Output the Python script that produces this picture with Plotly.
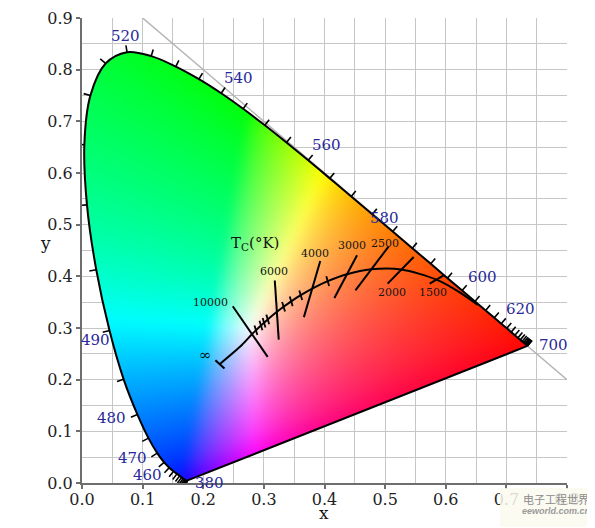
import numpy as np, zlib, struct, base64
import plotly.graph_objects as go

# ---------------- data ----------------
wavelengths = list(range(380, 705, 5))
locus_x = [0.1741, 0.1740, 0.1738, 0.1736, 0.1733, 0.1730, 0.1726, 0.1721, 0.1714, 0.1703,
           0.1689, 0.1669, 0.1644, 0.1611, 0.1566, 0.1510, 0.1440, 0.1355, 0.1241, 0.1096,
           0.0913, 0.0687, 0.0454, 0.0235, 0.0082, 0.0039, 0.0139, 0.0389, 0.0743, 0.1142,
           0.1547, 0.1929, 0.2296, 0.2658, 0.3016, 0.3373, 0.3731, 0.4087, 0.4441, 0.4788,
           0.5125, 0.5448, 0.5752, 0.6029, 0.6270, 0.6482, 0.6658, 0.6801, 0.6915, 0.7006,
           0.7079, 0.7140, 0.7190, 0.7230, 0.7260, 0.7283, 0.7300, 0.7311, 0.7320, 0.7327,
           0.7334, 0.7340, 0.7344, 0.7346, 0.7347]
locus_y = [0.0050, 0.0050, 0.0049, 0.0049, 0.0048, 0.0048, 0.0048, 0.0048, 0.0051, 0.0058,
           0.0069, 0.0086, 0.0109, 0.0138, 0.0177, 0.0227, 0.0297, 0.0399, 0.0578, 0.0868,
           0.1327, 0.2007, 0.2950, 0.4127, 0.5384, 0.6548, 0.7502, 0.8120, 0.8338, 0.8262,
           0.8059, 0.7816, 0.7543, 0.7243, 0.6923, 0.6589, 0.6245, 0.5896, 0.5547, 0.5202,
           0.4866, 0.4544, 0.4242, 0.3965, 0.3725, 0.3514, 0.3340, 0.3197, 0.3083, 0.2993,
           0.2920, 0.2859, 0.2809, 0.2770, 0.2740, 0.2717, 0.2700, 0.2689, 0.2680, 0.2673,
           0.2666, 0.2660, 0.2656, 0.2654, 0.2653]

wl_labels = ["520", "540", "560", "580", "600", "620", "700", "500", "490", "480", "470", "460", "380"]
wl_label_x = [0.0717, 0.258, 0.403, 0.499, 0.660, 0.723, 0.777, -0.037, 0.022, 0.0486, 0.0828, 0.1075, 0.210]
wl_label_y = [0.866, 0.783, 0.654, 0.512, 0.399, 0.336, 0.2665, 0.537, 0.276, 0.1266, 0.049, 0.015, 0.0]

planck_T = ["inf", "15000", "10000", "9000", "8000", "7500", "7000", "6500", "6000", "5500",
            "5000", "4500", "4000", "3500", "3000", "2500", "2000", "1500", "1200", "1000"]
planck_x = [0.2280, 0.2637, 0.2807, 0.2869, 0.2952, 0.3003, 0.3064, 0.3135, 0.3221, 0.3325,
            0.3451, 0.3608, 0.3805, 0.4053, 0.4369, 0.4770, 0.5267, 0.5857, 0.6250, 0.6528]
planck_y = [0.2310, 0.2671, 0.2884, 0.2956, 0.3048, 0.3103, 0.3166, 0.3237, 0.3318, 0.3411,
            0.3516, 0.3635, 0.3768, 0.3907, 0.4041, 0.4137, 0.4133, 0.3931, 0.3675, 0.3444]

small_tick_T = ["9000", "8000", "7500", "7000", "5500", "5000", "4500", "3500"]

iso_T = ["10000", "6000", "4000", "3000", "2500", "2000", "1500"]
iso_x0 = [0.2487, 0.3180, 0.3930, 0.4537, 0.5059, 0.5471, 0.5966]
iso_y0 = [0.3420, 0.3920, 0.4297, 0.4407, 0.4580, 0.4374, 0.4020]
iso_x1 = [0.3063, 0.3245, 0.3660, 0.4163, 0.4510, 0.5042, 0.5735]
iso_y1 = [0.2440, 0.2775, 0.3210, 0.3580, 0.3729, 0.3859, 0.3859]
iso_label_x = [0.212, 0.316, 0.385, 0.4455, 0.5004, 0.5115, 0.579]
iso_label_y = [0.350, 0.410, 0.445, 0.460, 0.4645, 0.3685, 0.3685]

inf_bar_x = [0.2200, 0.2350]
inf_bar_y = [0.2375, 0.2214]
inf_label = "∞"
inf_label_x, inf_label_y = 0.2036, 0.247
tc_label = "T<sub>C</sub>(°K)"
tc_label_x, tc_label_y = 0.286, 0.4645

diag_x = [0.1, 0.8]
diag_y = [0.9, 0.2]

X_RANGE = [0.0, 0.8]
Y_RANGE = [0.0, 0.9]

# ---------------- geometry ----------------
OFF = 8                     # page body margin of the html page
W, H = 595 - OFF, 528 - OFF
L, T = 82 - OFF, 18 - OFF
PW, PH = 485, 465
R, B = W - L - PW, H - T - PH
SX = PW / (X_RANGE[1] - X_RANGE[0])
SY = PH / (Y_RANGE[1] - Y_RANGE[0])

def px_paper(px, py):
    """page pixel -> paper coords"""
    return (px - OFF - L) / PW, (T + PH - (py - OFF)) / PH

# ---------- replicate plotly's spline to get a smooth mask outline ----------
SMOOTH = 1.0
def plotly_spline(xd, yd, smooth=SMOOTH, nseg=12):
    P = np.column_stack([np.array(xd) * SX, -np.array(yd) * SY])
    n = len(P)
    tans = []
    for i in range(1, n - 1):
        p0, p1, p2 = P[i - 1], P[i], P[i + 1]
        d1 = p0 - p1; d2 = p2 - p1
        d1a = np.hypot(*d1) ** 0.5; d2a = np.hypot(*d2) ** 0.5
        num = (d2a * d2a * d1 - d1a * d1a * d2) * smooth
        den1 = 3 * d2a * (d1a + d2a); den2 = 3 * d1a * (d1a + d2a)
        a = p1 + (num / den1 if den1 else 0)
        b = p1 - (num / den2 if den2 else 0)
        tans.append((a, b))
    t = np.linspace(0, 1, nseg + 1)[1:, None]
    out = [P[0]]
    c = tans[0][0]
    out += list((1 - t) ** 2 * P[0] + 2 * (1 - t) * t * c + t ** 2 * P[1])
    for i in range(2, n - 1):
        c1 = tans[i - 2][1]; c2 = tans[i - 1][0]
        p0, p3 = P[i - 1], P[i]
        out += list((1 - t) ** 3 * p0 + 3 * (1 - t) ** 2 * t * c1 + 3 * (1 - t) * t ** 2 * c2 + t ** 3 * p3)
    c = tans[n - 3][1]
    out += list((1 - t) ** 2 * P[n - 2] + 2 * (1 - t) * t * c + t ** 2 * P[n - 1])
    out = np.array(out)
    return out[:, 0] / SX, -out[:, 1] / SY

mask_x, mask_y = plotly_spline(locus_x, locus_y)

# ---------------- colour field image (wide-gamut CIE RGB rendering) ----------------
IW, IH = PW, PH
dx = (X_RANGE[1] - X_RANGE[0]) / IW
dy = (Y_RANGE[1] - Y_RANGE[0]) / IH
xs = X_RANGE[0] + (np.arange(IW) + 0.5) * dx
ys = Y_RANGE[0] + (np.arange(IH) + 0.5) * dy
gx, gy = np.meshgrid(xs, ys)
poly = np.column_stack([mask_x, mask_y])
inside = np.zeros(gx.shape, bool)
n = len(poly)
M = np.array([[2.3646, -0.8965, -0.4681],
              [-0.5152, 1.4264, 0.0888],
              [0.0052, -0.0144, 1.0092]])
WHITE = (0.28, 0.30)      # chromaticity rendered as neutral white
wX, wZ = WHITE[0] / WHITE[1], (1 - WHITE[0] - WHITE[1]) / WHITE[1]
gains = 1.0 / (M @ np.array([wX, 1.0, wZ]))
with np.errstate(divide='ignore', invalid='ignore'):
    for i in range(n):
        x1, y1 = poly[i]
        x2, y2 = poly[(i + 1) % n]
        if y1 == y2:
            continue
        cond = (y1 > gy) != (y2 > gy)
        xint = (x2 - x1) * (gy - y1) / (y2 - y1) + x1
        inside ^= cond & (gx < xint)
    XYZ = np.stack([gx / gy, np.ones_like(gx), (1 - gx - gy) / gy], -1)
    rgb = (XYZ @ M.T) * gains
    rgb = np.clip(rgb, 0, None)
    mx = rgb.max(-1, keepdims=True)
    mx[mx <= 0] = 1
    rgb = rgb / mx
    srgb = np.power(np.clip(rgb, 0, 1), 1 / 1.55)
srgb = np.nan_to_num(srgb)

# soften the gamut-clipping seams with a masked box blur (rendering only)
def box_blur(a, r, axis):
    pad = [(0, 0)] * a.ndim
    pad[axis] = (r + 1, r)
    c = np.cumsum(np.pad(a, pad, mode='edge'), axis=axis)
    sl_hi = [slice(None)] * a.ndim; sl_lo = [slice(None)] * a.ndim
    sl_hi[axis] = slice(2 * r + 1, None); sl_lo[axis] = slice(None, -(2 * r + 1))
    return (c[tuple(sl_hi)] - c[tuple(sl_lo)]) / (2 * r + 1)

mk = inside.astype(float)[..., None]
num = srgb * mk
den = mk.copy()
for _ in range(2):
    for ax in (0, 1):
        num = box_blur(num, 6, ax)
        den = box_blur(den, 6, ax)
with np.errstate(divide='ignore', invalid='ignore'):
    blurred = np.where(den > 1e-6, num / den, srgb)
rgba = np.zeros((IH, IW, 4), np.uint8)
rgba[..., :3] = np.clip(blurred * 255, 0, 255).astype(np.uint8)
rgba[..., 3] = np.where(inside, 255, 0)

def png_bytes(a):
    h, w = a.shape[:2]
    raw = b''.join(b'\x00' + a[r].tobytes() for r in range(h))
    def chunk(t, d):
        return struct.pack('>I', len(d)) + t + d + struct.pack('>I', zlib.crc32(t + d) & 0xffffffff)
    return (b'\x89PNG\r\n\x1a\n' + chunk(b'IHDR', struct.pack('>IIBBBBB', w, h, 8, 6, 0, 0, 0))
            + chunk(b'IDAT', zlib.compress(raw, 9)) + chunk(b'IEND', b''))

uri = "data:image/png;base64," + base64.b64encode(png_bytes(rgba)).decode()

fig = go.Figure()
fig.add_trace(go.Image(source=uri, x0=X_RANGE[0] + dx / 2, dx=dx, y0=Y_RANGE[0] + dy / 2, dy=dy,
                       hoverinfo='skip'))

# diagonal x+y=1 reference line
fig.add_trace(go.Scatter(x=diag_x, y=diag_y, mode='lines', line=dict(color='#b4b4b4', width=1.5),
                         hoverinfo='skip'))

# spectral locus ticks (outward normals, computed in pixel space)
lx = np.array(locus_x); ly = np.array(locus_y)
tx, ty = [], []
TICK = 7.0
for i in range(len(lx)):
    k = 1
    while True:
        a, b = max(i - k, 0), min(i + k, len(lx) - 1)
        ddx = (lx[b] - lx[a]) * SX
        ddy = (ly[b] - ly[a]) * SY
        if np.hypot(ddx, ddy) > 6 or (a == 0 and b == len(lx) - 1):
            break
        k += 1
    nrm = np.hypot(ddx, ddy)
    nx, ny = -ddy / nrm, ddx / nrm
    tx += [lx[i], lx[i] + nx * TICK / SX, None]
    ty += [ly[i], ly[i] + ny * TICK / SY, None]
fig.add_trace(go.Scatter(x=tx, y=ty, mode='lines', line=dict(color='black', width=1.6), hoverinfo='skip'))

# spectral locus outline (smooth) + straight purple line
fig.add_trace(go.Scatter(x=locus_x, y=locus_y, mode='lines',
                         line=dict(color='black', width=2, shape='spline', smoothing=SMOOTH), hoverinfo='skip'))
fig.add_trace(go.Scatter(x=[locus_x[-1], locus_x[0]], y=[locus_y[-1], locus_y[0]], mode='lines',
                         line=dict(color='black', width=2), hoverinfo='skip'))

# planckian locus
fig.add_trace(go.Scatter(x=planck_x, y=planck_y, mode='lines',
                         line=dict(color='black', width=2, shape='spline', smoothing=0.8), hoverinfo='skip'))

# small ticks on planckian locus
sx, sy = [], []
HALF = 5.0
vx, vy = 0.3, -1.0
vn = np.hypot(vx, vy); vx /= vn; vy /= vn
for t in small_tick_T:
    j = planck_T.index(t)
    cx, cy = planck_x[j], planck_y[j]
    sx += [cx - vx * HALF / SX, cx + vx * HALF / SX, None]
    sy += [cy - vy * HALF / SY, cy + vy * HALF / SY, None]
fig.add_trace(go.Scatter(x=sx, y=sy, mode='lines', line=dict(color='black', width=1.8), hoverinfo='skip'))

# isotemperature lines + infinity bar
ix, iy = [], []
for a, b, c, d in zip(iso_x0, iso_y0, iso_x1, iso_y1):
    ix += [a, c, None]; iy += [b, d, None]
ix += inf_bar_x + [None]; iy += inf_bar_y + [None]
fig.add_trace(go.Scatter(x=ix, y=iy, mode='lines', line=dict(color='black', width=2), hoverinfo='skip'))

ann = []
serif = "DejaVu Serif"
C = dict(showarrow=False, xanchor='center', yanchor='middle')
for lab, x, y in zip(wl_labels, wl_label_x, wl_label_y):
    ann.append(dict(x=x, y=y, xref='x', yref='y', text=lab, **C,
                    font=dict(family=serif, size=15, color='#28289a')))
for lab, x, y in zip(iso_T, iso_label_x, iso_label_y):
    ann.append(dict(x=x, y=y, xref='x', yref='y', text=lab, **C,
                    font=dict(family=serif, size=11, color='#151515')))
ann.append(dict(x=inf_label_x, y=inf_label_y, xref='x', yref='y', text=inf_label, **C,
                font=dict(family=serif, size=15, color='#151515')))
ann.append(dict(x=tc_label_x, y=tc_label_y, xref='x', yref='y', text=tc_label, **C,
                font=dict(family=serif, size=15, color='#151515')))
# axis titles
xp, yp = px_paper(324, 513)
ann.append(dict(x=xp, y=yp, xref='paper', yref='paper', text='x', **C,
                font=dict(family=serif, size=17, color='#151515')))
xp, yp = px_paper(45, 243)
ann.append(dict(x=xp, y=yp, xref='paper', yref='paper', text='y', **C,
                font=dict(family=serif, size=17, color='#151515')))
# watermark
xp, yp = px_paper(556, 499)
ann.append(dict(x=xp, y=yp, xref='paper', yref='paper', text='电子工程世界', **C,
                font=dict(family='Noto Sans CJK SC', size=11, color='#8a8a8a')))
xp, yp = px_paper(556, 511)
ann.append(dict(x=xp, y=yp, xref='paper', yref='paper', text='<i><b>eeworld.com.cn</b></i>', **C,
                font=dict(family='Liberation Sans', size=9, color='#9a9a9a')))

x0p, y0p = px_paper(500, 527)
x1p, y1p = px_paper(595, 488)
shapes = [dict(type='rect', xref='paper', yref='paper', x0=x0p, y0=y0p, x1=x1p, y1=y1p,
               fillcolor='rgba(252,250,240,0.85)', line=dict(width=0), layer='above')]

axis_common = dict(showgrid=True, gridcolor='#c6c6c6', gridwidth=1, showline=True, linecolor='#6e6e6e',
                   linewidth=2, ticks='outside', ticklen=4, tickcolor='#6e6e6e', tickwidth=1.5,
                   zeroline=False, tickformat='.1f', dtick=0.1, tick0=0, automargin=False,
                   tickfont=dict(family=serif, size=16, color='#222222'),
                   minor=dict(dtick=0.05, showgrid=True, gridcolor='#c6c6c6', gridwidth=1))

fig.update_layout(
    width=W, height=H, margin=dict(l=L, r=R, t=T, b=B, autoexpand=False),
    paper_bgcolor='white', plot_bgcolor='white', showlegend=False,
    xaxis=dict(range=X_RANGE, autorange=False, constrain='range', ticklabelstandoff=-3, **axis_common),
    yaxis=dict(range=Y_RANGE, autorange=False, scaleanchor=False, constrain='range', **axis_common),
    annotations=ann, shapes=shapes,
)
fig.write_html("out.html")
